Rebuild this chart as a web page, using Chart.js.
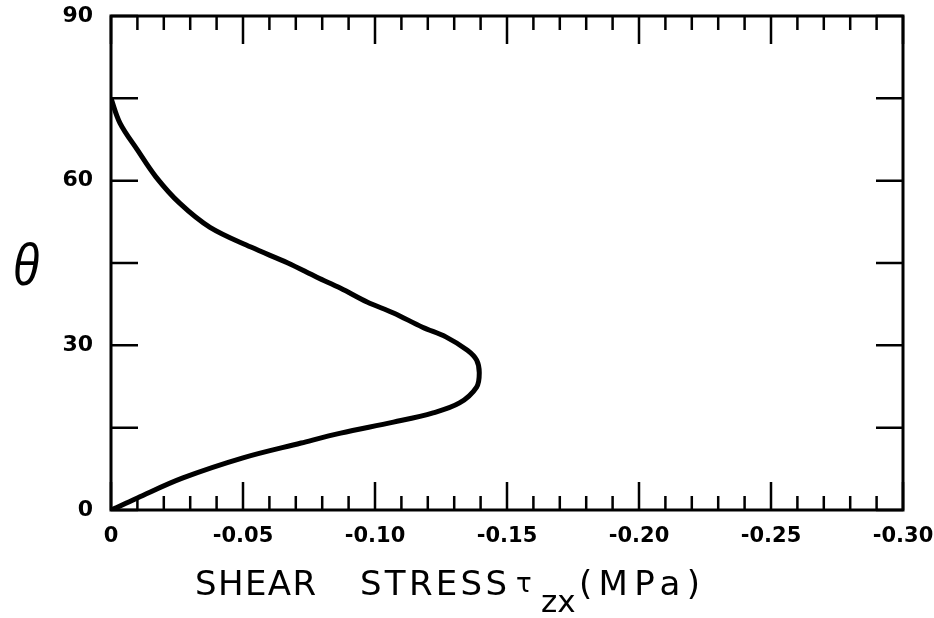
<!DOCTYPE html>
<html>
<head>
<meta charset="utf-8">
<script src="https://cdn.jsdelivr.net/npm/chart.js@4.4.1/dist/chart.umd.min.js"></script>
<style>
  html, body { margin: 0; background: #fff; }
  #wrap { width: 934px; height: 618px; }
</style>
</head>
<body>
<div id="wrap"><canvas id="c"></canvas></div>
<script>
// ── Data ──────────────────────────────────────────────────────────────────

// angle θ (deg), walking the curve from bottom to top
const THETA = [0, 0.4, 2.2, 5.8, 9.5, 12.2, 14.0, 16.0, 17.7, 19.5, 22.4, 25.0,
  27.3, 29.1, 31.5, 33.3, 35.9, 37.9, 40.4, 42.4, 45.0, 47.9, 51.5, 55.9,
  60.7, 65.6, 70.5, 75.0];

// shear stress τzx (MPa) at each θ above
const TAU_ZX = [0, -0.002, -0.010, -0.027, -0.050, -0.072, -0.087, -0.107,
  -0.122, -0.132, -0.1385, -0.1395, -0.1385, -0.135, -0.127, -0.118, -0.107,
  -0.097, -0.087, -0.078, -0.067, -0.053, -0.0375, -0.026, -0.017, -0.010,
  -0.0034, 0];

const X_RANGE = [-0.30, 0];
const Y_RANGE = [0, 90];

// ── Style ─────────────────────────────────────────────────────────────────

const INK = '#000';
const FAMILY = '"DejaVu Sans", sans-serif';
const TITLE_FONT = `34px ${FAMILY}`;

// draw text spread out to a given width (old plotter lettering is wide)
function spreadText(ctx, text, x, y, width) {
  ctx.letterSpacing = '0px';
  const w = ctx.measureText(text).width;
  const gap = text.length > 1 ? Math.max(0, (width - w) / (text.length - 1)) : 0;
  ctx.letterSpacing = gap + 'px';
  ctx.fillText(text, x, y);
  ctx.letterSpacing = '0px';
}

// ── Frame, inward ticks and axis titles ───────────────────────────────────

const frame = {
  id: 'frame',
  afterDatasetsDraw(chart) {
    const { ctx, chartArea: a, scales: { x, y } } = chart;
    ctx.save();
    ctx.strokeStyle = INK;
    ctx.lineWidth = 3;
    ctx.strokeRect(a.left, a.top, a.right - a.left, a.bottom - a.top);

    ctx.lineWidth = 2.5;
    ctx.beginPath();
    x.ticks.forEach(t => {
      const px = x.getPixelForValue(t.value);
      const major = Math.abs(Math.round(t.value * 100)) % 5 === 0;
      const len = major ? 28 : 14;
      ctx.moveTo(px, a.bottom); ctx.lineTo(px, a.bottom - len);
      ctx.moveTo(px, a.top); ctx.lineTo(px, a.top + len);
    });
    y.ticks.forEach(t => {
      const py = y.getPixelForValue(t.value);
      ctx.moveTo(a.left, py); ctx.lineTo(a.left + 27, py);
      ctx.moveTo(a.right, py); ctx.lineTo(a.right - 27, py);
    });
    ctx.stroke();
    ctx.restore();
  },
  afterDraw(chart) {
    const { ctx } = chart;
    ctx.save();
    ctx.fillStyle = INK;
    ctx.textBaseline = 'alphabetic';

    // θ
    ctx.save();
    ctx.font = 'italic 60px "Liberation Sans", sans-serif';
    ctx.textAlign = 'center';
    ctx.translate(26, 285);
    ctx.scale(0.8, 1);
    ctx.fillText('θ', 0, 0);
    ctx.restore();

    // SHEAR STRESS τzx (MPa)
    ctx.textAlign = 'left';
    ctx.font = TITLE_FONT;
    spreadText(ctx, 'SHEAR', 195, 595, 121);
    spreadText(ctx, 'STRESS', 360, 595, 147);
    spreadText(ctx, '(MPa)', 579, 595, 121);
    ctx.font = `26px ${FAMILY}`;
    ctx.fillText('τ', 516, 592);
    ctx.font = `31px ${FAMILY}`;
    spreadText(ctx, 'zx', 541, 612, 34);
    ctx.restore();
  },
};

// ── Chart ─────────────────────────────────────────────────────────────────

new Chart(document.getElementById('c'), {
  type: 'scatter',
  data: {
    datasets: [{
      data: THETA.map((t, i) => ({ x: TAU_ZX[i], y: t })),
      showLine: true,
      borderColor: INK,
      borderWidth: 5,
      pointRadius: 0,
      tension: 0.35,
    }],
  },
  options: {
    responsive: true,
    maintainAspectRatio: false,
    devicePixelRatio: 1,
    animation: false,
    layout: { padding: { top: 16, right: 31, left: 0, bottom: 0 } },
    plugins: { legend: { display: false }, tooltip: { enabled: false } },
    scales: {
      x: {
        type: 'linear',
        reverse: true,
        min: X_RANGE[0],
        max: X_RANGE[1],
        grid: { display: false, drawTicks: false },
        border: { display: false },
        ticks: {
          stepSize: 0.01,
          autoSkip: false,
          maxRotation: 0,
          padding: 14,
          color: INK,
          font: { family: FAMILY, size: 21, weight: 'bold' },
          callback: v => {
            const c = Math.round(v * 100);
            if (c % 5 !== 0) return '';
            return c === 0 ? '0' : (c / 100).toFixed(2);
          },
        },
        afterFit: s => {
          s.height = 108;
          s.paddingLeft = 0;
          s.paddingRight = 0;
        },
      },
      y: {
        type: 'linear',
        min: Y_RANGE[0],
        max: Y_RANGE[1],
        grid: { display: false, drawTicks: false },
        border: { display: false },
        ticks: {
          stepSize: 15,
          autoSkip: false,
          padding: 18,
          color: INK,
          font: { family: FAMILY, size: 22, weight: 'bold' },
          callback: v => (v % 30 === 0 ? String(v) : ''),
        },
        afterFit: s => {
          s.width = 111;
          s.paddingTop = 0;
          s.paddingBottom = 0;
        },
      },
    },
  },
  plugins: [frame],
});
</script>
</body>
</html>
